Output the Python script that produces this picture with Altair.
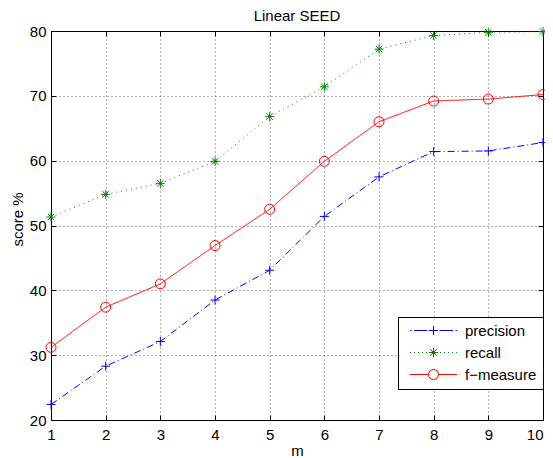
import altair as alt
import pandas as pd

# ---- data ----
m_values = [1, 2, 3, 4, 5, 6, 7, 8, 9, 10]
precision = [22.4, 28.3, 32.1, 38.5, 43.1, 51.4, 57.5, 61.4, 61.5, 62.8]
recall = [51.3, 54.8, 56.5, 59.9, 66.8, 71.4, 77.2, 79.3, 79.8, 79.9]
f_measure = [31.2, 37.4, 41.0, 46.9, 52.5, 59.9, 66.0, 69.2, 69.5, 70.2]
series_names = ["precision", "recall", "f\u2212measure"]
y_ticks = [20, 30, 40, 50, 60, 70, 80]

# ---- styles ----
colors = ["#0000ff", "#008000", "#ff0000"]
dashes = [[7, 3, 1, 3], [1, 4], [1, 0]]
marker_paths = [
    "M-0.9,0L0.9,0M0,-0.9L0,0.9",
    "M-0.9,0L0.9,0M0,-0.9L0,0.9M-0.64,-0.64L0.64,0.64M-0.64,0.64L0.64,-0.64",
    "M-1,0A1,1,0,1,0,1,0A1,1,0,1,0,-1,0Z",
]
legend_paths = [
    "M-4.7,0L-4.4,0M-3.9,0L-1.2,0M-0.9,0L0.9,0M0,-0.9L0,0.9M1.2,0L3.9,0M4.4,0L4.7,0",
    "M-4.7,0L-4.5,0M-3.9,0L-3.7,0M-3.1,0L-2.9,0M-2.3,0L-2.1,0M-1.5,0L-1.3,0"
    "M1.3,0L1.5,0M2.1,0L2.3,0M2.9,0L3.1,0M3.7,0L3.9,0M4.5,0L4.7,0"
    "M-0.9,0L0.9,0M0,-0.9L0,0.9M-0.64,-0.64L0.64,0.64M-0.64,0.64L0.64,-0.64",
    "M-4.7,0L-1,0M1,0L4.7,0M-1,0A1,1,0,1,0,1,0A1,1,0,1,0,-1,0",
]
font = "Liberation Sans"

df = pd.DataFrame({
    "m": m_values * 3,
    "score": precision + recall + f_measure,
    "series": [n for n in series_names for _ in m_values],
})

xs = alt.Scale(domain=[1, 10], nice=False, zero=False)
ys = alt.Scale(domain=[20, 80], nice=False, zero=False)

base = alt.Chart(df)

last_label_align = {"condition": {"test": "datum.value == 10", "value": "right"}, "value": "center"}

lines = base.mark_line(strokeWidth=1).encode(
    x=alt.X("m:Q", scale=xs, axis=alt.Axis(
        orient="bottom", values=m_values, format="d", offset=-5, tickSize=5,
        domain=False, grid=True, labelPadding=7, labelAlign=last_label_align,
        title="m", titlePadding=1)),
    y=alt.Y("score:Q", scale=ys, axis=alt.Axis(
        orient="left", values=y_ticks, format="d", offset=-5, tickSize=5,
        domain=False, grid=True, labelPadding=5, title="score %", titlePadding=4,
        titleY=188)),
    stroke=alt.Stroke("series:N", scale=alt.Scale(domain=series_names, range=colors), legend=None),
    strokeDash=alt.StrokeDash("series:N", scale=alt.Scale(domain=series_names, range=dashes), legend=None),
)

markers = base.mark_point(filled=False, strokeWidth=1, size=100, opacity=1).encode(
    x=alt.X("m:Q", scale=xs, axis=alt.Axis(
        orient="top", values=m_values, labels=False, offset=-5, tickSize=5,
        domain=False, grid=False, title=None)),
    y=alt.Y("score:Q", scale=ys, axis=alt.Axis(
        orient="right", values=y_ticks, labels=False, offset=-5, tickSize=5,
        domain=False, grid=False, title=None)),
    stroke=alt.Stroke("series:N", scale=alt.Scale(domain=series_names, range=colors), legend=None),
    shape=alt.Shape("series:N", scale=alt.Scale(domain=series_names, range=marker_paths), legend=None),
)

legend_props = dict(
    orient="none", legendX=347, legendY=286, title=None,
    strokeColor="black", fillColor="white", padding=6, cornerRadius=0,
    labelFont=font, labelFontSize=15, labelColor="black",
    symbolSize=100, symbolStrokeWidth=1, symbolOpacity=1,
    symbolOffset=22, labelOffset=24, rowPadding=6,
)

legend_layer = base.mark_point(filled=False, size=100, opacity=0).encode(
    x=alt.X("m:Q", scale=xs, axis=None),
    y=alt.Y("score:Q", scale=ys, axis=None),
    color=alt.Color("series:N", scale=alt.Scale(domain=series_names, range=colors),
                    legend=alt.Legend(**legend_props)),
    shape=alt.Shape("series:N", scale=alt.Scale(domain=series_names, range=legend_paths),
                    legend=alt.Legend(**legend_props)),
)

chart = alt.layer(lines, markers, legend_layer).resolve_scale(
    shape="independent", color="independent"
).resolve_axis(
    x="independent", y="independent"
).properties(
    width=492, height=389,
    title=alt.TitleParams("Linear SEED", font=font, fontSize=15, fontWeight="normal",
                          color="black", frame="group", anchor="middle", offset=0),
    padding={"left": 43, "top": 23, "right": 2, "bottom": 38},
    autosize=alt.AutoSizeParams(type="none"),
).configure_axis(
    labelFont=font, labelFontSize=15, labelColor="black",
    titleFont=font, titleFontSize=15, titleFontWeight="normal", titleColor="black",
    tickColor="black", tickWidth=1,
    gridColor="#000000", gridOpacity=0.6, gridDash=[1, 3], gridWidth=1,
).configure_view(
    stroke="black", strokeWidth=1
)

chart.save("out.html", embed_options={"renderer": "svg", "actions": False})
